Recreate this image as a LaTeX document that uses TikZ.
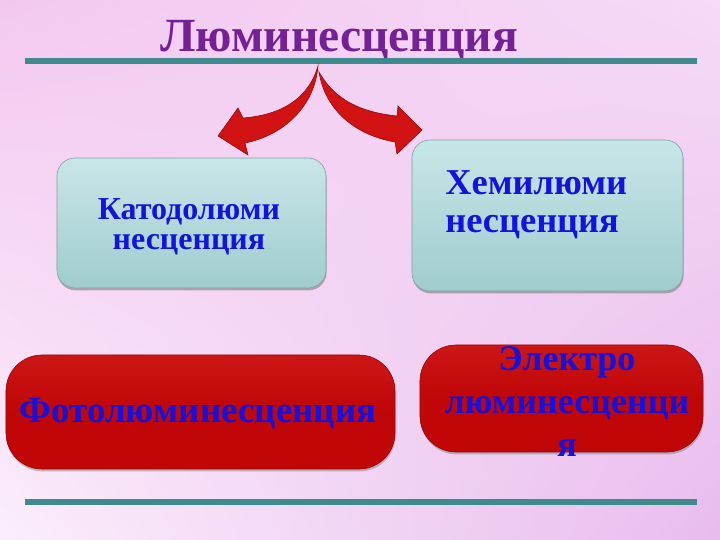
\documentclass[tikz,border=0pt]{standalone}
\usepackage{fontspec}
\setmainfont{Liberation Serif}
\usetikzlibrary{shadows,shadings}

\definecolor{lumpurple}{RGB}{116,32,150}
\definecolor{lumblue}{RGB}{18,18,225}
\definecolor{lumteal}{RGB}{62,138,140}
\definecolor{lumred}{RGB}{192,6,6}
\definecolor{lumredtop}{RGB}{204,22,22}
\definecolor{arrowred}{RGB}{208,18,18}
\definecolor{boxtop}{RGB}{200,230,232}
\definecolor{boxbot}{RGB}{160,204,206}
\definecolor{bgul}{RGB}{243,200,240}
\definecolor{bgur}{RGB}{246,218,246}
\definecolor{bgll}{RGB}{251,238,251}
\definecolor{bglr}{RGB}{232,188,238}

\tikzset{
  tealbox/.style={rounded corners=9pt, inner sep=0pt, top color=boxtop, bottom color=boxbot,
    draw=boxbot!80!black, line width=0.3pt,
    drop shadow={shadow xshift=0.3pt, shadow yshift=-1.2pt, opacity=0.6}},
  redbox/.style={rounded corners=18pt, inner sep=0pt, top color=lumredtop, bottom color=lumred,
    middle color=lumred, draw=lumred!80!black, line width=0.3pt,
    drop shadow={shadow xshift=0.3pt, shadow yshift=-1.2pt, opacity=0.5}},
  boxtext/.style={text=lumblue, inner sep=0pt},
  rule line/.style={lumteal, line width=2.6pt},
  curl arrow/.style={fill=arrowred, draw=arrowred!70!black, line width=0.3pt}
}

\begin{document}
\begin{tikzpicture}[x=0.5pt,y=-0.5pt]
% background
\shade[upper left=bgul, upper right=bgur, lower left=bgll, lower right=bglr] (0,0) rectangle (720,540);
\useasboundingbox (0,0) rectangle (720,540);

% title and rules
\node[lumpurple, anchor=base, inner sep=0pt, font=\fontsize{23.8}{27}\selectfont\bfseries] (title) at (339,52) {Люминесценция};
\draw[rule line] (25,61) -- (697,61);
\draw[rule line] (25,502) -- (697,502);

% curved arrows
\draw[curl arrow] (318,66) .. controls (308,100) and (280,115) .. (243,118) -- (238,108) -- (218,136)
  -- (248,155) -- (245,143) .. controls (285,135) and (315,105) .. (318,66) -- cycle;
\draw[curl arrow] (319,72) .. controls (335,100) and (360,112) .. (397,116) -- (398,106) -- (422,130)
  -- (397,154) -- (395,142) .. controls (355,135) and (325,110) .. (319,72) -- cycle;

% boxes
\node[tealbox, minimum width=134.5pt, minimum height=65pt] (katbox) at (191.5,223) {};
\node[tealbox, minimum width=135.5pt, minimum height=75.5pt] (chembox) at (547.5,215.5) {};
\node[redbox, minimum width=194.5pt, minimum height=57pt] (photobox) at (200.5,412) {};
\node[redbox, minimum width=141.5pt, minimum height=53.5pt] (elecbox) at (561.5,398.5) {};

% box texts
\node[boxtext, align=center, font=\fontsize{16}{15}\selectfont\bfseries] (kattext) at (189,227) {Катодолюми\\несценция};
\node[boxtext, align=left, anchor=west, font=\fontsize{18.2}{19}\selectfont\bfseries] (chemtext) at (445,205) {Хемилюми\\несценция};
\node[boxtext, anchor=base, font=\fontsize{18.5}{22}\selectfont\bfseries] (phototext) at (198,423) {Фотолюминесценция};
\node[boxtext, align=center, font=\fontsize{18}{21.5}\selectfont\bfseries] (electext) at (567,402) {Электро\\люминесценци\\я};
\end{tikzpicture}
\end{document}
